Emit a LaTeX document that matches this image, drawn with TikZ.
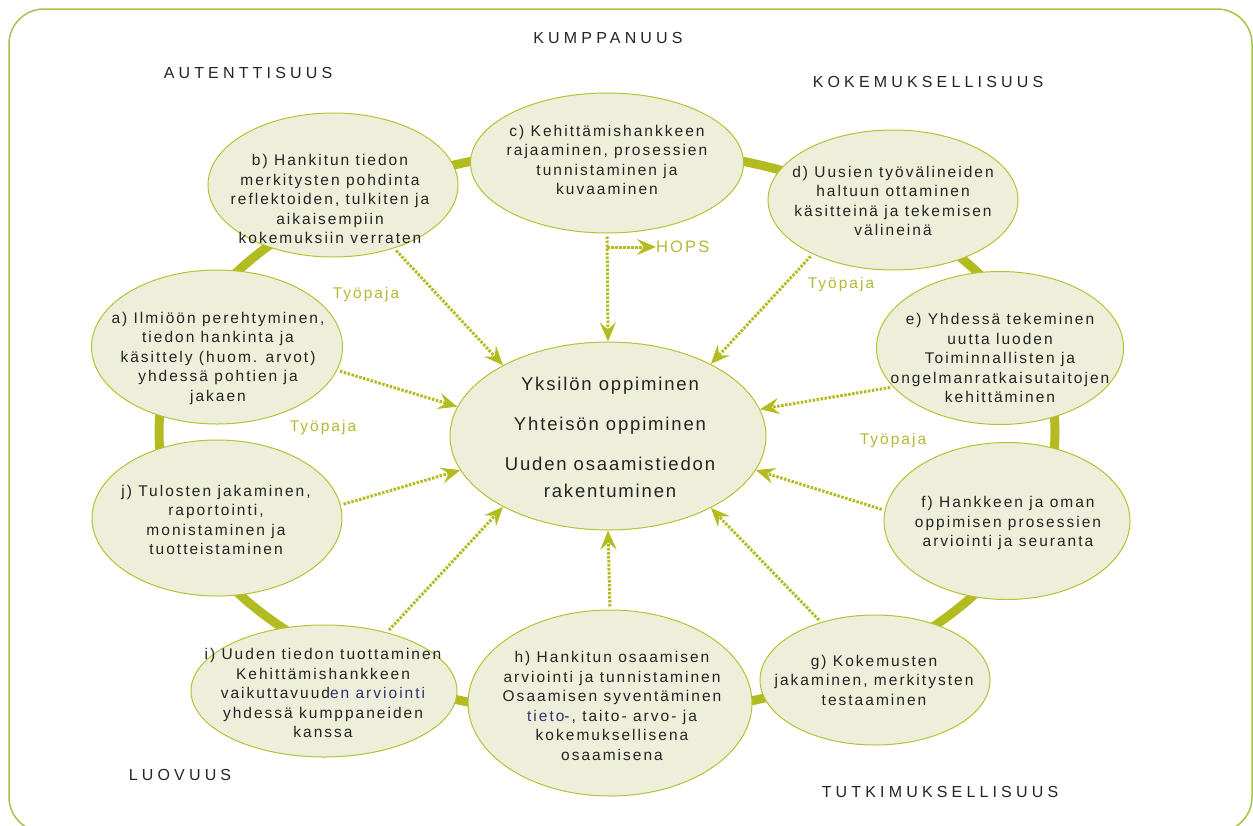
\documentclass[tikz,border=0pt]{standalone}
\usepackage{fontspec}
\setmainfont{Liberation Sans}[LetterSpace=13]
\newfontfamily\capsfont{Liberation Sans}[LetterSpace=26]
\newfontfamily\ydinfont{Liberation Sans}[LetterSpace=10]
\usetikzlibrary{arrows.meta,shapes.geometric}
\definecolor{oliivi}{RGB}{178,188,32}
\definecolor{reuna}{RGB}{184,192,52}
\definecolor{tayte}{RGB}{237,239,218}
\definecolor{kehysvari}{RGB}{165,196,74}
\definecolor{muste}{RGB}{36,36,36}
\definecolor{sininen}{RGB}{50,50,112}
\definecolor{pajavari}{RGB}{178,186,53}

\begin{document}
\begin{tikzpicture}[x=1pt,y=-1pt]
\tikzstyle{kehys} = [draw=kehysvari, line width=1.5pt, rounded corners=35pt]
\tikzstyle{rengas} = [draw=oliivi, line width=9pt]
\tikzstyle{pallo} = [ellipse, draw=reuna, line width=1pt, fill=tayte, inner sep=0pt]
\tikzstyle{teksti} = [align=center, text=muste, inner sep=0pt, font=\fontsize{15.5}{19.5}\selectfont]
\tikzstyle{otsikko} = [text=muste, inner sep=0pt, font=\capsfont\fontsize{16}{18}\selectfont]
\tikzstyle{paja} = [text=pajavari, inner sep=0pt, font=\fontsize{15.5}{18}\selectfont]
\tikzstyle{nuoli} = [draw=oliivi, line width=3pt, dash pattern=on 2.5pt off 1.5pt, shorten <=3pt, -{Stealth[length=19pt,width=16pt,inset=7pt,fill=oliivi]}]
\useasboundingbox (0,0) rectangle (1253,825);
\draw[kehys] (9,9) rectangle (1252,832);
% rengas ellipsien takana
\draw[rengas] (607,432) ellipse (448 and 284);
% keskus
\node[pallo, minimum width=316pt, minimum height=188pt] (ydin) at (608,436) {};
\node[teksti, font=\ydinfont\fontsize{18.5}{27}\selectfont] (ydinteksti) at (610,437) {Yksilön oppiminen\\[13pt] Yhteisön oppiminen\\[13pt] Uuden osaamistiedon\\ rakentuminen};
% vaiheet a)--j)
\node[pallo, minimum width=251pt, minimum height=154pt] (a) at (217,347) {};
\node[pallo, minimum width=250pt, minimum height=144pt] (b) at (333,185) {};
\node[pallo, minimum width=273pt, minimum height=140pt] (c) at (607,163) {};
\node[pallo, minimum width=250pt, minimum height=140pt] (d) at (893,200) {};
\node[pallo, minimum width=247pt, minimum height=153pt] (e) at (1000,348) {};
\node[pallo, minimum width=246pt, minimum height=157pt] (f) at (1007,521) {};
\node[pallo, minimum width=230pt, minimum height=130pt] (g) at (875,680) {};
\node[pallo, minimum width=284pt, minimum height=186pt] (h) at (610,703) {};
\node[pallo, minimum width=266pt, minimum height=132pt] (i) at (324,691) {};
\node[pallo, minimum width=250pt, minimum height=156pt] (j) at (217,518) {};
\node[teksti] (at) at (218,358) {a) Ilmiöön perehtyminen,\\ tiedon hankinta ja\\ käsittely (huom. arvot)\\ yhdessä pohtien ja\\ jakaen};
\node[teksti] (bt) at (330,199) {b) Hankitun tiedon\\ merkitysten pohdinta\\ reflektoiden, tulkiten ja\\ aikaisempiin\\ kokemuksiin verraten};
\node[teksti] (ct) at (607,160) {c) Kehittämishankkeen\\ rajaaminen, prosessien\\ tunnistaminen ja\\ kuvaaminen};
\node[teksti] (dt) at (893,201) {d) Uusien työvälineiden\\ haltuun ottaminen\\ käsitteinä ja tekemisen\\ välineinä};
\node[teksti] (et) at (1000,358) {e) Yhdessä tekeminen\\ uutta luoden\\ Toiminnallisten ja\\ ongelmanratkaisutaitojen\\ kehittäminen};
\node[teksti] (ft) at (1008,523) {f) Hankkeen ja oman\\ oppimisen prosessien\\ arviointi ja seuranta};
\node[teksti] (gt) at (874,680) {g) Kokemusten\\ jakaminen, merkitysten\\ testaaminen};
\node[teksti] (ht) at (612,706) {h) Hankitun osaamisen\\ arviointi ja tunnistaminen\\ Osaamisen syventäminen\\ \textcolor{sininen}{tieto}-, taito- arvo- ja\\ kokemuksellisena\\ osaamisena};
\node[teksti] (it) at (323,693) {i) Uuden tiedon tuottaminen\\ Kehittämishankkeen\\ vaikuttavuud\textcolor{sininen}{en arviointi}\\ yhdessä kumppaneiden\\ kanssa};
\node[teksti] (jt) at (216,520) {j) Tulosten jakaminen,\\ raportointi,\\ monistaminen ja\\ tuotteistaminen};
% periaatteet
\node[otsikko] (kumppanuus) at (608,38) {KUMPPANUUS};
\node[otsikko] (autenttisuus) at (248,73) {AUTENTTISUUS};
\node[otsikko] (kokemuksellisuus) at (928,82) {KOKEMUKSELLISUUS};
\node[otsikko] (luovuus) at (180,775) {LUOVUUS};
\node[otsikko] (tutkimuksellisuus) at (940,792) {TUTKIMUKSELLISUUS};
\node[paja] (paja1) at (366,294) {Työpaja};
\node[paja] (paja2) at (323,427) {Työpaja};
\node[paja] (paja3) at (841,284) {Työpaja};
\node[paja] (paja4) at (893,440) {Työpaja};
\node[paja, anchor=west, font=\fontsize{16.5}{18}\selectfont] (hops) at (656,247) {HOPS};
\coordinate (haara) at (607,247);
% nuolet keskustaan
\draw[nuoli] (b.-46) -- (ydin.146);
\draw[nuoli] (c.south) -- (ydin.north);
\draw[nuoli, shorten <=0pt] (haara) -- (hops.west);
\draw[nuoli] (d.214) -- (ydin.35);
\draw[nuoli] (a.-11) -- (ydin.169);
\draw[nuoli] (e.200) -- (ydin.10);
\draw[nuoli] (j.6) -- (ydin.193);
\draw[nuoli] (f.175) -- (ydin.-13);
\draw[nuoli] (i.43) -- (ydin.214);
\draw[nuoli] (h.north) -- (ydin.south);
\draw[nuoli] (g.133) -- (ydin.-35);
\end{tikzpicture}
\end{document}
